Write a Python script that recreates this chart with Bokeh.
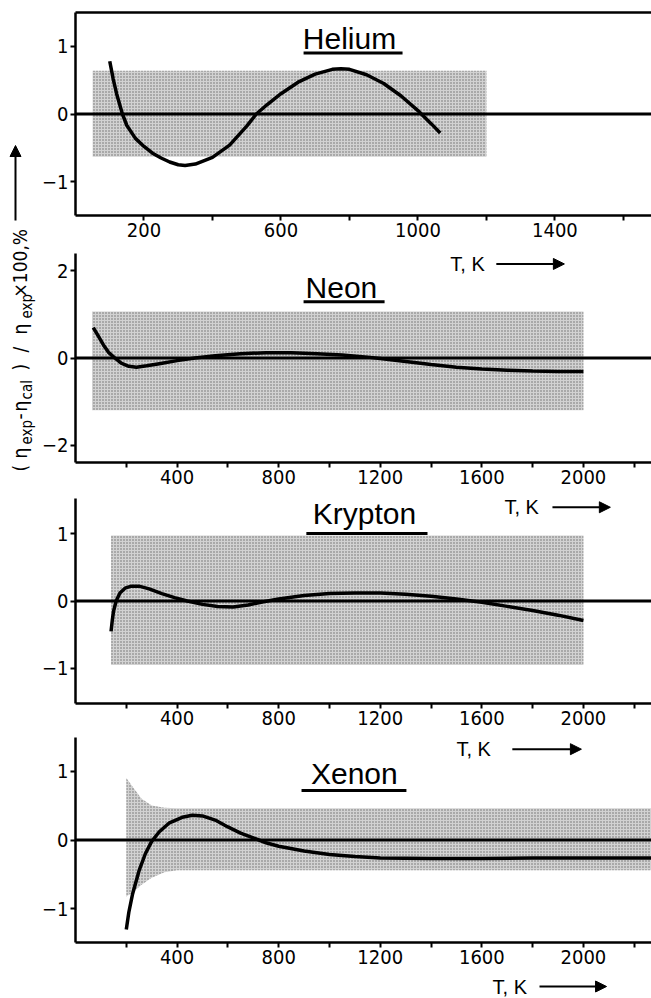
from math import pi
from bokeh.plotting import figure
from bokeh.models import Range1d, FixedTicker, LinearAxis, Span, Arrow, NormalHead
from bokeh.layouts import row, column
from bokeh.embed import file_html
from bokeh.resources import INLINE
from bokeh.core.properties import value

# ---------------- data ----------------
he_T = [100, 110, 120, 137, 150, 175, 200, 225, 250, 275, 300, 320, 350, 400, 450, 500, 528,
        560, 600, 650, 700, 750, 775, 800, 850, 900, 950, 1000, 1010, 1040, 1065]
he_dev = [0.78, 0.52, 0.30, 0.0, -0.17, -0.36, -0.48, -0.58, -0.65, -0.71, -0.75, -0.76, -0.74,
          -0.64, -0.46, -0.18, 0.0, 0.14, 0.30, 0.47, 0.59, 0.66, 0.67, 0.66, 0.58, 0.45, 0.27,
          0.05, 0.0, -0.15, -0.28]
he_band_T = [50, 1200]
he_band_lo = [-0.63, -0.63]
he_band_hi = [0.64, 0.64]

ne_T = [70, 90, 110, 130, 155, 180, 210, 240, 280, 330, 400, 470, 550, 650, 750, 850, 950, 1050,
        1150, 1200, 1300, 1400, 1500, 1600, 1700, 1800, 1900, 2000]
ne_dev = [0.70, 0.50, 0.30, 0.13, 0.0, -0.12, -0.19, -0.21, -0.18, -0.13, -0.06, 0.0, 0.05, 0.10,
          0.12, 0.12, 0.10, 0.07, 0.02, -0.01, -0.08, -0.15, -0.21, -0.25, -0.28, -0.30, -0.31, -0.31]
ne_band_T = [65, 2000]
ne_band_lo = [-1.2, -1.2]
ne_band_hi = [1.07, 1.07]

kr_T = [140, 145, 150, 160, 175, 195, 220, 250, 290, 340, 390, 440, 500, 560, 620, 680, 740, 800,
        900, 1000, 1100, 1200, 1300, 1400, 1500, 1600, 1700, 1800, 1900, 2000]
kr_dev = [-0.45, -0.28, -0.15, 0.0, 0.12, 0.19, 0.22, 0.22, 0.18, 0.11, 0.05, 0.0, -0.05, -0.08,
          -0.09, -0.06, -0.01, 0.03, 0.08, 0.11, 0.12, 0.12, 0.10, 0.07, 0.03, -0.02, -0.08, -0.14,
          -0.21, -0.29]
kr_band_T = [140, 2000]
kr_band_lo = [-0.95, -0.95]
kr_band_hi = [0.97, 0.97]

xe_T = [200, 210, 225, 250, 275, 300, 330, 370, 420, 460, 500, 550, 600, 650, 700, 750, 800, 900,
        1000, 1100, 1200, 1400, 1600, 1800, 2000, 2270]
xe_dev = [-1.30, -1.05, -0.78, -0.45, -0.20, -0.02, 0.12, 0.25, 0.33, 0.36, 0.35, 0.29, 0.19, 0.10,
          0.03, -0.04, -0.09, -0.16, -0.21, -0.24, -0.26, -0.27, -0.27, -0.26, -0.26, -0.26]
xe_band_T = [200, 230, 260, 300, 350, 400, 2270]
xe_band_lo = [-0.82, -0.75, -0.65, -0.55, -0.47, -0.44, -0.44]
xe_band_hi = [0.90, 0.75, 0.60, 0.50, 0.47, 0.46, 0.46]

he_xticks = [200, 600, 1000, 1400]
he_xminor = [400, 800, 1200, 1600]
hi_xticks = [400, 800, 1200, 1600, 2000]
hi_xminor = [200, 600, 1000, 1400, 1800, 2200]

FONT = "'Liberation Sans Narrow', 'DejaVu Sans Condensed', sans-serif"
TFONT = "'Liberation Sans', Arial, sans-serif"
PW = 613          # panel figure width (frame from x=75 to 651)
HE_XMAX = 1682
XMAX = 2268


def panel(height, xmax, ylim, bt, bb, yticks, xmaj, xmin):
    p = figure(width=PW, height=height, x_range=Range1d(0, xmax), y_range=Range1d(-ylim, ylim),
               output_backend="svg", toolbar_location=None, min_border_left=37,
               min_border_right=0, min_border_top=bt, min_border_bottom=bb,
               outline_line_color=None)
    p.grid.visible = False
    p.xaxis.ticker = FixedTicker(ticks=xmaj, minor_ticks=xmin)
    p.yaxis.ticker = FixedTicker(ticks=yticks, minor_ticks=[])
    for ax in (p.xaxis[0], p.yaxis[0]):
        ax.axis_line_width = 2.5
        ax.axis_line_color = "black"
        ax.major_tick_line_width = 2
        ax.minor_tick_line_width = 2
        ax.major_tick_line_color = "black"
        ax.minor_tick_line_color = "black"
        ax.major_tick_out = 5
        ax.major_tick_in = 0
        ax.minor_tick_out = 5
        ax.minor_tick_in = 0
        ax.major_label_text_font = FONT
        ax.major_label_text_font_size = "20px"
        ax.major_label_text_color = "black"
        ax.major_label_standoff = 2
    p.add_layout(Span(location=0, dimension="width", line_color="black", line_width=3))
    return p


def band(p, T, lo, hi):
    p.varea(x=T, y1=lo, y2=hi, fill_color="#d2d2d2", hatch_pattern="dot",
            hatch_color="#6a6a6a", hatch_scale=3, hatch_weight=1)


def curve(p, T, d):
    p.line(T, d, line_color="black", line_width=3.5)


def title(p, text, x, y, ux0, ux1, uy):
    p.text(x=[x], y=[y], text=[text], text_font=value(TFONT), text_font_size=value("30px"),
           text_align="center", text_baseline="middle", text_color="black")
    p.segment(x0=[ux0], y0=[uy], x1=[ux1], y1=[uy], line_color="black", line_width=3)


def tk(p, x, y, ax0, ax1, ay):
    p.text(x=[x], y=[y], text=["T, K"], text_font=value(TFONT), text_font_size=value("20px"),
           text_align="left", text_baseline="middle", text_color="black")
    p.add_layout(Arrow(x_start=ax0, y_start=ay, x_end=ax1, y_end=ay, line_width=2,
                       line_color="black",
                       end=NormalHead(size=11, fill_color="black", line_color="black")))


# Helium
p1 = panel(245, HE_XMAX, 1.5, 12, 30, [-1, 0, 1], he_xticks, he_xminor)
top = LinearAxis(ticker=FixedTicker(ticks=[], minor_ticks=[]), axis_line_width=2.5,
                 major_label_text_font_size="0px", major_tick_out=0, minor_tick_out=0)
p1.add_layout(top, "above")
band(p1, he_band_T, he_band_lo, he_band_hi)
curve(p1, he_T, he_dev)
title(p1, "Helium", 800, 1.12, 666, 955, 0.9)

# Neon
p2 = panel(245, XMAX, 2.4, 8, 28, [-2, 0, 2], hi_xticks, hi_xminor)
band(p2, ne_band_T, ne_band_lo, ne_band_hi)
curve(p2, ne_T, ne_dev)
title(p2, "Neon", 1047, 1.61, 898, 1217, 1.29)
tk(p2, 1476, 2.16, 1657, 1925, 2.16)

# Krypton
p3 = panel(240, XMAX, 1.52, 8, 27, [-1, 0, 1], hi_xticks, hi_xminor)
band(p3, kr_band_T, kr_band_lo, kr_band_hi)
curve(p3, kr_T, kr_dev)
title(p3, "Krypton", 1138, 1.30, 909, 1386, 1.0)
tk(p3, 1689, 1.39, 1878, 2106, 1.39)

# Xenon
p4 = panel(240, XMAX, 1.49, 7, 28, [-1, 0, 1], hi_xticks, hi_xminor)
band(p4, xe_band_T, xe_band_lo, xe_band_hi)
curve(p4, xe_T, xe_dev)
title(p4, "Xenon", 1098, 0.97, 890, 1303, 0.72)
tk(p4, 1500, 1.32, 1720, 1992, 1.32)

# strip under Xenon for its "T, K" caption
p5 = figure(width=PW, height=28, x_range=Range1d(0, XMAX), y_range=Range1d(28, 0),
            x_axis_type=None, y_axis_type=None, min_border_left=37, min_border_right=0,
            min_border_top=0, min_border_bottom=0, outline_line_color=None,
            toolbar_location=None, output_backend="svg")
p5.grid.visible = False
tk(p5, 1642, 16, 1827, 2091, 16)

# y-axis label strip
lf = figure(width=38, height=998, x_range=Range1d(0, 38), y_range=Range1d(998, 0),
            x_axis_type=None, y_axis_type=None, min_border=0, outline_line_color=None,
            toolbar_location=None, output_backend="svg")
lf.grid.visible = False
main_txt = ["(", "η", "-", "η", ")", "/", "η", "×100,%"]
main_y = [471, 458, 419, 411, 370, 352, 334, 297]
sub_txt = ["exp", "cal", "exp"]
sub_y = [444, 399, 318]
lf.text(x=[19] * len(main_txt), y=main_y, text=main_txt, angle=pi / 2,
        text_font=value(FONT), text_font_size=value("19px"), text_align="left",
        text_baseline="middle", text_color="black")
lf.text(x=[26] * len(sub_txt), y=sub_y, text=sub_txt, angle=pi / 2,
        text_font=value(FONT), text_font_size=value("15px"), text_align="left",
        text_baseline="middle", text_color="black")
lf.add_layout(Arrow(x_start=15, y_start=220, x_end=15, y_end=145, line_width=2,
                    line_color="black",
                    end=NormalHead(size=11, fill_color="black", line_color="black")))

layout = row(lf, column(p1, p2, p3, p4, p5))
open("out.html", "w").write(file_html(layout, INLINE))
